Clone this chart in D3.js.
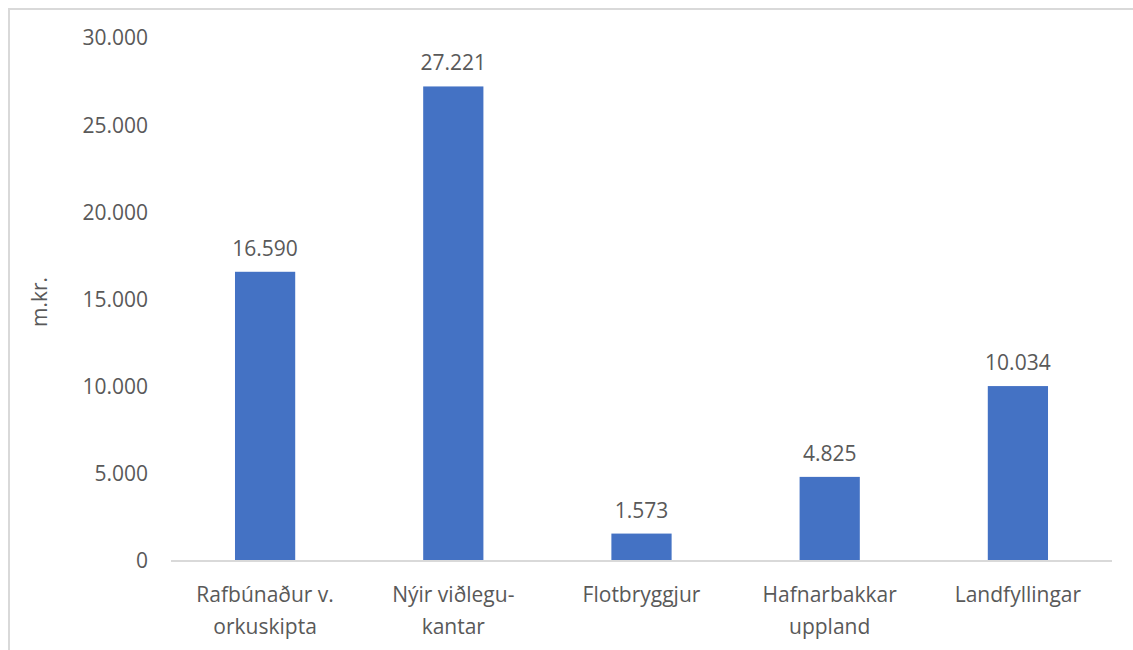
<!DOCTYPE html>
<html>
<head>
<meta charset="utf-8">
<script src="https://cdn.jsdelivr.net/npm/d3@7"></script>
<style>
  body { margin: 0; background: #fff; }
  text { font-family: "Open Sans", sans-serif; fill: #595959; }
</style>
</head>
<body>
<svg id="chart" width="1133" height="650"></svg>
<script>
const categories = [
    ["Rafbúnaður v.", "orkuskipta"],
    ["Nýir viðlegu-", "kantar"],
    ["Flotbryggjur"],
    ["Hafnarbakkar", "uppland"],
    ["Landfyllingar"]
];
const values = [16590, 27221, 1573, 4825, 10034];
const yTicks = [0, 5000, 10000, 15000, 20000, 25000, 30000];

const fmt = d => d3.format(",")(d).replace(/,/g, ".");

const svg = d3.select("#chart");

// frame
svg.append("path")
    .attr("d", "M9,650 V9 H1133")
    .attr("fill", "none")
    .attr("stroke", "#d9d9d9")
    .attr("stroke-width", 2);

const x = d3.scaleBand()
    .domain(d3.range(values.length))
    .range([171, 1112])
    .paddingInner(0.68)
    .paddingOuter(0.34);

const y = d3.scaleLinear()
    .domain([0, 30000])
    .range([561, 38]);

// y axis labels
svg.append("g")
    .selectAll("text")
    .data(yTicks)
    .enter()
    .append("text")
    .attr("x", 148)
    .attr("y", d => y(d))
    .attr("dy", "0.35em")
    .attr("text-anchor", "end")
    .style("font-size", "21px")
    .text(fmt);

// axis title
svg.append("text")
    .attr("transform", "translate(47,302) rotate(-90)")
    .attr("text-anchor", "middle")
    .style("font-size", "21px")
    .text("m.kr.");

// bars
svg.append("g")
    .selectAll("rect")
    .data(values)
    .enter()
    .append("rect")
    .attr("x", (d, i) => x(i))
    .attr("y", d => y(d))
    .attr("width", x.bandwidth())
    .attr("height", d => y(0) - y(d))
    .attr("fill", "#4472c4");

// baseline
svg.append("line")
    .attr("x1", 171)
    .attr("x2", 1112)
    .attr("y1", y(0))
    .attr("y2", y(0))
    .attr("stroke", "#d9d9d9")
    .attr("stroke-width", 2);

// data labels
svg.append("g")
    .selectAll("text")
    .data(values)
    .enter()
    .append("text")
    .attr("x", (d, i) => x(i) + x.bandwidth() / 2)
    .attr("y", d => y(d) - 16)
    .attr("text-anchor", "middle")
    .style("font-size", "21px")
    .text(fmt);

// category labels
const cat = svg.append("g")
    .selectAll("text")
    .data(categories)
    .enter()
    .append("text")
    .attr("x", (d, i) => x(i) + x.bandwidth() / 2)
    .attr("y", 602)
    .attr("text-anchor", "middle")
    .style("font-size", "21px");

cat.selectAll("tspan")
    .data(d => d)
    .enter()
    .append("tspan")
    .attr("x", function () { return d3.select(this.parentNode).attr("x"); })
    .attr("dy", (d, i) => i === 0 ? 0 : 32)
    .text(d => d);
</script>
</body>
</html>
